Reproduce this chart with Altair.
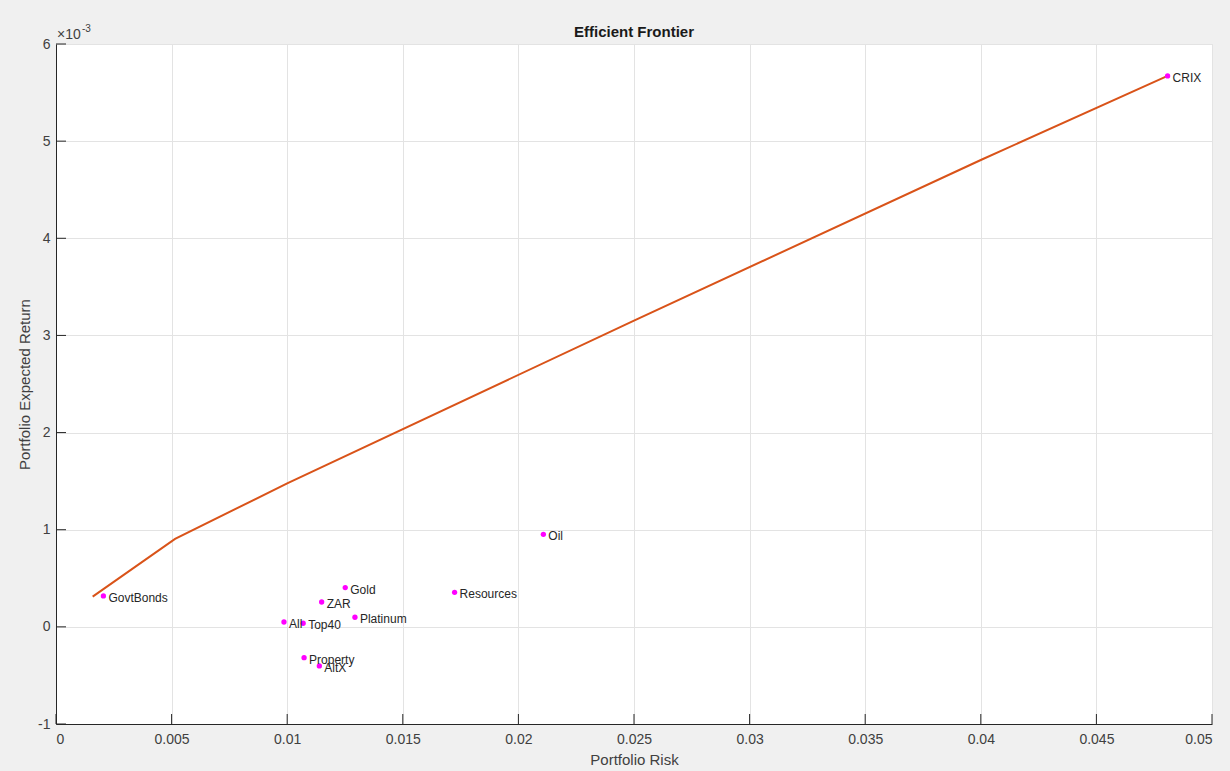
import altair as alt
import pandas as pd

# Assets (risk, expected return in units of 1e-3)
asset_names = ["GovtBonds", "All", "Top40", "ZAR", "Gold", "Platinum",
               "Property", "AltX", "Resources", "Oil", "CRIX"]
asset_risk = [0.00205, 0.00986, 0.01069, 0.01149, 0.01251, 0.01293,
              0.01073, 0.01139, 0.01724, 0.02108, 0.04808]
asset_return_e3 = [0.318, 0.050, 0.037, 0.256, 0.404, 0.099,
                   -0.317, -0.402, 0.356, 0.953, 5.671]

# Efficient frontier
frontier_risk = [0.001586, 0.00515, 0.01, 0.025, 0.04, 0.04808]
frontier_return_e3 = [0.311, 0.905, 1.478, 3.152, 4.806, 5.671]

x_ticks = [0, 0.005, 0.01, 0.015, 0.02, 0.025, 0.03, 0.035, 0.04, 0.045, 0.05]
y_ticks = [-1, 0, 1, 2, 3, 4, 5, 6]

FONT = "Liberation Sans"
W, H = 1156, 680

assets = pd.DataFrame({"name": asset_names, "risk": asset_risk, "ret": asset_return_e3})
frontier = pd.DataFrame({"risk": frontier_risk, "ret": frontier_return_e3})
xt = pd.DataFrame({"v": x_ticks})
yt = pd.DataFrame({"v": y_ticks})

xscale = alt.Scale(domain=[0, 0.05], nice=False, zero=False)
yscale = alt.Scale(domain=[-1, 6], nice=False, zero=False)

xaxis = alt.Axis(title="Portfolio Risk", values=x_ticks, format="~g",
                 labelPadding=8, titlePadding=6)
yaxis = alt.Axis(title="Portfolio Expected Return", values=y_ticks,
                 labelExpr="'' + datum.value", labelPadding=6, titlePadding=5)

base_line = alt.Chart(frontier).mark_line(color="#D95319", strokeWidth=2).encode(
    x=alt.X("risk:Q", scale=xscale, axis=xaxis),
    y=alt.Y("ret:Q", scale=yscale, axis=yaxis),
    order="risk:Q",
)

pts = alt.Chart(assets).mark_circle(color="#FF00FF", opacity=1, size=28).encode(
    x=alt.X("risk:Q", scale=xscale),
    y=alt.Y("ret:Q", scale=yscale),
)

labels = alt.Chart(assets).mark_text(
    align="left", baseline="middle", dx=5, dy=2, fontSize=12, font=FONT, color="#262626"
).encode(
    x=alt.X("risk:Q", scale=xscale),
    y=alt.Y("ret:Q", scale=yscale),
    text="name:N",
)

xticks_in = alt.Chart(xt).mark_rule(color="#262626", strokeWidth=1).encode(
    x=alt.X("v:Q", scale=xscale),
    y=alt.value(H),
    y2=alt.value(H - 10),
)
yticks_in = alt.Chart(yt).mark_rule(color="#262626", strokeWidth=1).encode(
    y=alt.Y("v:Q", scale=yscale),
    x=alt.value(0),
    x2=alt.value(10),
)

exp_main = alt.Chart(pd.DataFrame({"t": ["×10"]})).mark_text(
    align="left", baseline="middle", fontSize=14, font=FONT, color="#404040"
).encode(x=alt.value(1), y=alt.value(-9), text="t:N")
exp_sup = alt.Chart(pd.DataFrame({"t": ["-3"]})).mark_text(
    align="left", baseline="middle", fontSize=10, font=FONT, color="#404040"
).encode(x=alt.value(26), y=alt.value(-15), text="t:N")

chart = alt.layer(
    xticks_in, yticks_in, base_line, pts, labels, exp_main, exp_sup
).properties(
    width=W, height=H,
    autosize=alt.AutoSizeParams(type="none"),
    padding={"left": 56, "top": 44, "right": 18, "bottom": 47},
    background="#f0f0f0",
    title=alt.TitleParams("Efficient Frontier", font=FONT, fontSize=15,
                          fontWeight="bold", color="#1a1a1a", offset=-16, anchor="middle"),
).configure_view(
    fill="white", stroke="#e3e3e3", strokeWidth=1
).configure_axis(
    grid=True, gridColor="#e3e3e3", gridWidth=1,
    domainColor="#262626", domainWidth=1,
    ticks=False,
    labelFont=FONT, labelFontSize=14, labelColor="#404040",
    titleFont=FONT, titleFontSize=15, titleFontWeight="normal", titleColor="#404040",
)

chart.save("out.html", embed_options={"renderer": "svg", "actions": False})
